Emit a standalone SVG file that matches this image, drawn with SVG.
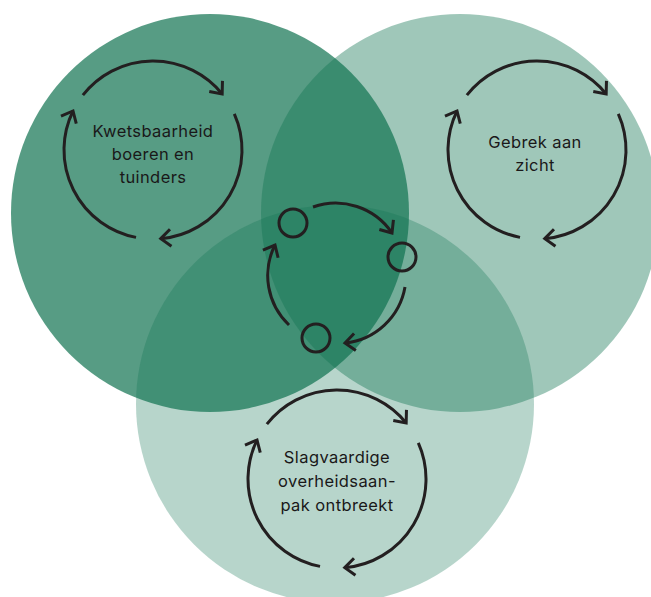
<svg xmlns="http://www.w3.org/2000/svg" xmlns:xlink="http://www.w3.org/1999/xlink" width="651" height="597" viewBox="0 0 651 597">
<style>
.blob{fill:#127452}
.arc{fill:none;stroke:#231f20;stroke-width:3;stroke-linecap:butt;marker-end:url(#head)}
.dot{fill:none;stroke:#231f20;stroke-width:3}
.lbl{font-family:Inter,"Open Sans","Liberation Sans",sans-serif;font-size:16.5px;letter-spacing:0.4px;fill:#1a1819;text-anchor:middle}
</style>
<defs>
<marker id="head" markerUnits="userSpaceOnUse" markerWidth="30" markerHeight="30" refX="0" refY="0" viewBox="-15 -15 30 30" orient="auto" overflow="visible">
<path d="M-10,-8.5 L0,0 L-10,8.5" fill="none" stroke="#231f20" stroke-width="3" stroke-linejoin="miter"/>
</marker>
<g id="ring">
<path class="arc" d="M-70.13,-54.8 A89,89 0 0 1 69.16,-56.01"/>
<path class="arc" d="M81.31,-36.2 A89,89 0 0 1 7.76,88.66"/>
<path class="arc" d="M-16.98,87.36 A89,89 0 0 1 -79.99,-39.02"/>
</g>
</defs>
<g id="circles">
<circle class="blob" cx="210" cy="213" r="199" fill-opacity="0.71"/>
<circle class="blob" cx="460" cy="213" r="199" fill-opacity="0.405"/>
<circle class="blob" cx="335" cy="404" r="199" fill-opacity="0.30"/>
</g>
<g id="node-kwetsbaarheid">
<use xlink:href="#ring" transform="translate(153,150)"/>
<text class="lbl" x="153" y="137">Kwetsbaarheid</text>
<text class="lbl" x="153" y="160">boeren en</text>
<text class="lbl" x="153" y="183">tuinders</text>
</g>
<g id="node-gebrek">
<use xlink:href="#ring" transform="translate(537,150)"/>
<text class="lbl" x="535" y="148">Gebrek aan</text>
<text class="lbl" x="535" y="171">zicht</text>
</g>
<g id="node-slagvaardig">
<use xlink:href="#ring" transform="translate(337,479)"/>
<text class="lbl" x="337" y="463">Slagvaardige</text>
<text class="lbl" x="337" y="487">overheidsaan-</text>
<text class="lbl" x="337" y="511">pak ontbreekt</text>
</g>
<g id="node-center">
<circle class="dot" cx="293" cy="223" r="14"/>
<circle class="dot" cx="402" cy="257" r="14"/>
<circle class="dot" cx="316" cy="338" r="14"/>
</g>
<g id="connectors">
<path class="arc" d="M313,207 A68,68 0 0 1 392,233"/>
<path class="arc" d="M405,287 A68,68 0 0 1 345,343"/>
<path class="arc" d="M289,325 A68,68 0 0 1 275,245"/>
</g>
</svg>
